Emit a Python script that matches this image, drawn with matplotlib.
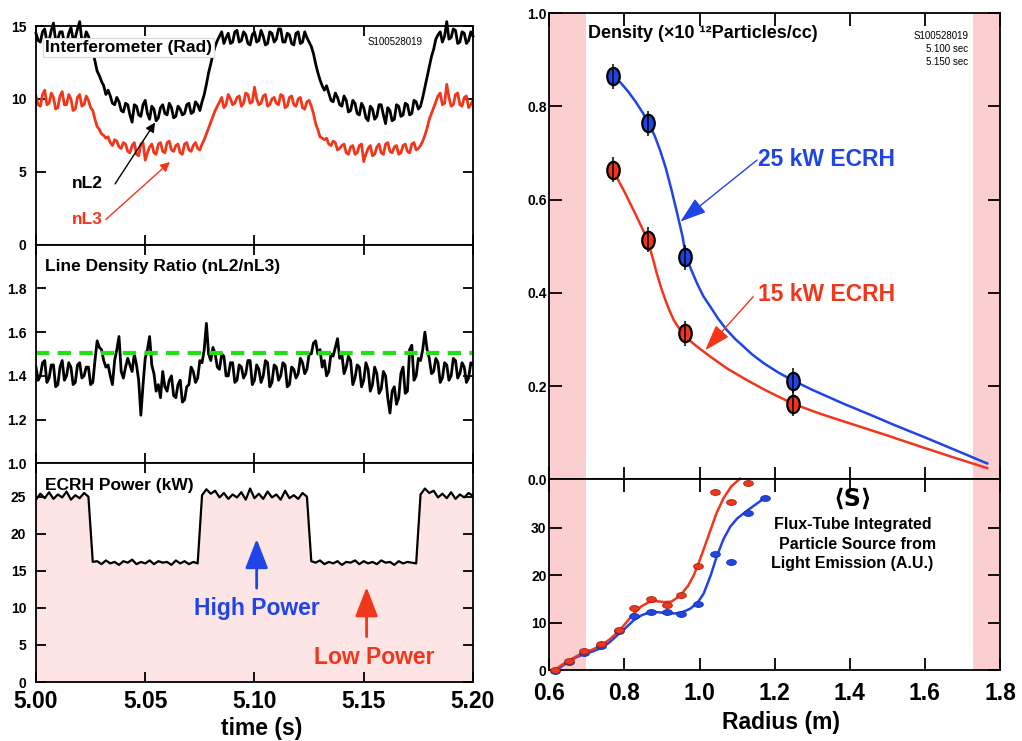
import numpy as np
import matplotlib.pyplot as plt
from matplotlib.path import Path
from matplotlib.transforms import Affine2D

plt.rcParams['font.family'] = ['Liberation Sans', 'DejaVu Sans']
plt.rcParams['font.weight'] = 'bold'
plt.rcParams['axes.labelweight'] = 'bold'

RED = '#f2361b'
BLUE = '#1f45e6'
PINK = '#fbcfcf'
LIGHT_PINK = '#fde5e5'

# ---- interferometer / ratio traces, 1 ms samples from 5.000 s to 5.200 s ----
nL2 = [14.5, 14.0, 13.9, 14.6, 14.8, 13.9, 14.0, 14.7, 15.2, 14.0,
       14.1, 14.6, 14.6, 13.8, 13.8, 14.5, 14.9, 14.1, 14.2, 14.8,
       15.3, 14.0, 13.9, 14.6, 14.3, 13.8, 13.2, 12.6, 11.9, 11.6,
       11.2, 10.9, 10.3, 10.6, 10.2, 9.7, 9.6, 10.1, 9.8, 9.2,
       9.1, 9.7, 9.6, 8.9, 8.4, 9.6, 9.5, 8.9, 8.8, 9.6,
       9.9, 9.0, 8.6, 9.5, 9.3, 8.5, 8.7, 9.4, 9.6, 9.0,
       8.9, 9.7, 9.4, 8.7, 8.8, 9.5, 9.3, 8.9, 9.0, 9.6,
       9.7, 9.0, 9.1, 9.8, 9.6, 9.2, 9.8, 10.3, 11.0, 11.8,
       12.4, 13.1, 13.6, 14.0, 14.3, 14.6, 13.8, 14.2, 14.5, 13.8,
       13.9, 14.6, 14.7, 13.9, 14.0, 14.6, 14.4, 13.8, 13.7, 14.4,
       14.6, 13.9, 14.0, 14.7, 14.3, 13.7, 13.8, 14.6, 14.5, 13.9,
       14.1, 14.8, 14.8, 13.9, 13.9, 14.5, 14.4, 13.8, 13.7, 14.5,
       14.6, 13.8, 13.9, 14.6, 14.2, 13.9, 13.6, 13.1, 12.4, 11.8,
       11.3, 10.9, 10.6, 10.9, 10.4, 9.9, 9.8, 10.4, 10.1, 9.6,
       9.5, 10.2, 9.9, 9.1, 9.2, 9.9, 9.7, 9.0, 8.9, 9.7,
       9.4, 8.7, 8.5, 9.5, 9.3, 8.6, 8.8, 9.6, 9.6, 8.9,
       8.3, 9.4, 9.2, 8.5, 8.6, 9.6, 9.5, 8.8, 8.9, 9.7,
       9.6, 8.9, 9.0, 9.9, 9.8, 9.3, 9.5, 10.1, 10.8, 11.5,
       12.2, 12.9, 13.4, 14.1, 14.4, 14.6, 13.9, 14.3, 15.3, 14.1,
       14.2, 14.8, 14.7, 13.8, 13.9, 14.6, 14.5, 13.8, 14.0, 14.6,
       14.3]

nL3 = [10.2, 9.6, 9.5, 10.3, 10.6, 9.6, 9.7, 10.4, 10.1, 9.3,
       9.4, 10.2, 10.5, 9.6, 9.6, 10.3, 10.0, 9.2, 9.3, 10.1,
       10.3, 9.5, 9.6, 10.2, 9.9, 9.4, 9.2, 8.6, 8.1, 7.9,
       7.6, 7.5, 7.3, 7.4, 7.0, 6.8, 7.2, 7.1, 6.7, 6.6,
       7.0, 6.9, 6.4, 6.3, 6.8, 7.0, 6.2, 6.1, 6.9, 7.0,
       5.8, 6.3, 6.7, 6.9, 6.3, 6.2, 6.9, 7.0, 6.4, 6.3,
       7.0, 7.1, 6.5, 6.4, 6.8, 6.9, 6.3, 6.2, 6.9, 7.0,
       6.5, 6.4, 6.8, 7.0, 6.6, 6.5, 6.9, 7.2, 7.6, 8.0,
       8.4, 8.8, 9.2, 9.5, 9.8, 10.1, 9.4, 9.6, 10.3, 10.0,
       9.6, 9.7, 10.1, 10.2, 9.5, 9.7, 10.4, 10.3, 9.7, 9.8,
       10.8, 10.0, 9.6, 9.7, 10.2, 10.3, 9.5, 9.6, 10.0, 10.1,
       9.7, 9.6, 10.3, 10.2, 9.4, 9.5, 10.1, 10.2, 9.6, 9.5,
       10.0, 10.1, 9.4, 9.3, 9.8, 9.9, 9.5, 9.0, 8.3, 7.9,
       7.4, 7.3, 7.2, 7.3, 6.9, 6.8, 7.1, 7.0, 6.5, 6.6,
       6.8, 6.9, 6.3, 6.2, 6.7, 6.8, 6.2, 6.3, 6.8, 6.9,
       5.7, 6.2, 6.6, 6.8, 6.1, 6.2, 6.7, 6.9, 6.3, 6.2,
       6.9, 7.0, 6.4, 6.3, 6.7, 6.8, 6.2, 6.3, 6.8, 6.9,
       6.4, 6.3, 6.9, 7.0, 6.5, 6.6, 6.8, 7.1, 7.5, 8.0,
       8.6, 9.0, 9.4, 9.8, 10.2, 10.4, 9.6, 9.7, 11.0, 10.1,
       9.5, 9.6, 10.3, 10.4, 9.6, 9.5, 10.1, 10.2, 9.4, 9.6,
       9.9]

ratio = [1.44, 1.38, 1.40, 1.46, 1.47, 1.37, 1.39, 1.45, 1.45, 1.35,
         1.36, 1.44, 1.47, 1.38, 1.40, 1.46, 1.44, 1.36, 1.37, 1.45,
         1.46, 1.39, 1.40, 1.44, 1.44, 1.36, 1.37, 1.47, 1.56, 1.53,
         1.52, 1.47, 1.44, 1.45, 1.40, 1.36, 1.47, 1.52, 1.58, 1.42,
         1.39, 1.44, 1.48, 1.45, 1.42, 1.50, 1.45, 1.38, 1.22, 1.36,
         1.48, 1.52, 1.58, 1.45, 1.41, 1.33, 1.36, 1.30, 1.42, 1.35,
         1.33, 1.38, 1.40, 1.31, 1.30, 1.36, 1.38, 1.28, 1.29, 1.35,
         1.36, 1.44, 1.42, 1.37, 1.39, 1.47, 1.46, 1.52, 1.64, 1.50,
         1.47, 1.53, 1.50, 1.44, 1.43, 1.50, 1.49, 1.40, 1.40, 1.46,
         1.46, 1.37, 1.38, 1.45, 1.44, 1.39, 1.41, 1.47, 1.47, 1.36,
         1.38, 1.45, 1.43, 1.37, 1.40, 1.47, 1.46, 1.35, 1.37, 1.45,
         1.44, 1.38, 1.40, 1.46, 1.45, 1.35, 1.36, 1.44, 1.43, 1.39,
         1.41, 1.48, 1.46, 1.41, 1.43, 1.50, 1.50, 1.55, 1.56, 1.50,
         1.52, 1.44, 1.47, 1.40, 1.42, 1.50, 1.49, 1.53, 1.57, 1.48,
         1.50, 1.41, 1.44, 1.49, 1.47, 1.36, 1.39, 1.45, 1.44, 1.35,
         1.38, 1.46, 1.43, 1.33, 1.36, 1.44, 1.41, 1.32, 1.34, 1.42,
         1.40, 1.30, 1.23, 1.33, 1.35, 1.27, 1.30, 1.41, 1.44, 1.32,
         1.33, 1.52, 1.54, 1.38, 1.40, 1.48, 1.47, 1.52, 1.60, 1.52,
         1.48, 1.41, 1.42, 1.48, 1.46, 1.37, 1.39, 1.46, 1.45, 1.38,
         1.40, 1.48, 1.47, 1.39, 1.41, 1.46, 1.44, 1.37, 1.39, 1.46,
         1.45]
ratio_ref = 1.505

t = np.linspace(5.0, 5.2, len(nL2))

# ECRH power, 2 ms samples
ecrh_kw = [24.6, 25.4, 24.8, 25.6, 24.7, 25.3, 24.9, 25.7, 24.6, 25.2,
           24.8, 25.5, 25.0, 16.2, 16.3, 15.9, 16.4, 16.0, 16.2, 15.8,
           16.3, 16.1, 16.5, 15.9, 16.2, 16.0, 16.4, 15.9, 16.3, 16.1,
           16.2, 15.8, 16.4, 16.0, 16.3, 15.9, 16.2, 16.0, 25.2, 26.0,
           25.4, 25.8, 24.9, 25.5, 24.7, 25.3, 24.9, 25.6, 24.6, 26.1,
           24.8, 25.4, 24.7, 25.7, 24.9, 25.3, 24.6, 25.8, 24.8, 25.2,
           24.7, 25.5, 25.0, 16.3, 16.1, 16.4, 15.9, 16.2, 16.0, 16.3,
           15.8, 16.2, 16.1, 16.4, 15.9, 16.3, 16.0, 16.2, 15.9, 16.4,
           16.1, 16.2, 15.8, 16.3, 16.0, 16.2, 16.1, 16.0, 25.3, 26.1,
           25.5, 25.8, 24.9, 25.4, 24.8, 25.6, 24.7, 25.3, 24.9, 25.5,
           25.1]
t_ecrh = np.linspace(5.0, 5.2, len(ecrh_kw))

# ---- density profiles ----
r_pts = [0.769, 0.864, 0.962, 1.249]
dens_25kw = [0.865, 0.764, 0.476, 0.212]
dens_15kw = [0.664, 0.514, 0.313, 0.162]
dens_err = [0.027, 0.027, 0.027, 0.027]

r_fit25 = [0.769, 0.790, 0.810, 0.830, 0.850, 0.864, 0.880, 0.895, 0.910,
           0.925, 0.940, 0.955, 0.962, 0.975, 0.993, 1.010, 1.029, 1.050,
           1.073, 1.095, 1.117, 1.140, 1.171, 1.210, 1.249, 1.300, 1.384,
           1.450, 1.520, 1.600, 1.680, 1.766]
fit25 = [0.865, 0.851, 0.832, 0.810, 0.785, 0.764, 0.738, 0.706, 0.668,
         0.622, 0.572, 0.520, 0.485, 0.455, 0.421, 0.393, 0.370, 0.344,
         0.320, 0.301, 0.285, 0.268, 0.249, 0.229, 0.212, 0.192, 0.162,
         0.140, 0.116, 0.090, 0.063, 0.034]
r_fit15 = [0.769, 0.800, 0.830, 0.850, 0.862, 0.875, 0.886, 0.898, 0.909,
           0.920, 0.931, 0.944, 0.956, 0.975, 0.993, 1.029, 1.073, 1.117,
           1.171, 1.249, 1.320, 1.400, 1.500, 1.600, 1.680, 1.766]
fit15 = [0.664, 0.617, 0.568, 0.534, 0.512, 0.476, 0.442, 0.410, 0.385,
         0.362, 0.342, 0.326, 0.313, 0.297, 0.285, 0.263, 0.238, 0.217,
         0.193, 0.162, 0.141, 0.120, 0.094, 0.067, 0.046, 0.024]

# ---- flux-tube integrated source ----
r_src = [0.615, 0.653, 0.693, 0.738, 0.785, 0.825, 0.871, 0.913, 0.951,
         0.995, 1.040, 1.085, 1.128, 1.175]
src_15kw = [0.0, 1.9, 3.9, 5.5, 8.4, 13.0, 15.0, 13.6, 15.7, 22.0, 37.4,
            35.4, 39.4, np.nan]
src_25kw = [-0.2, 1.7, 3.6, 5.0, 8.2, 11.4, 12.3, 12.3, 11.7, 14.0, 24.4,
            22.7, 33.0, 36.3]

r_sfit15 = [0.615, 0.630, 0.650, 0.670, 0.690, 0.715, 0.740, 0.760, 0.785,
            0.805, 0.825, 0.845, 0.865, 0.885, 0.905, 0.925, 0.948, 0.970,
            0.985, 0.997, 1.010, 1.028, 1.045, 1.064, 1.085, 1.108]
sfit15 = [0.0, 0.9, 1.9, 2.8, 3.6, 4.3, 5.3, 6.4, 8.2, 10.0, 11.9, 13.4,
          14.3, 14.5, 14.3, 14.4, 15.6, 17.8, 20.0, 22.4, 25.2, 29.2,
          33.0, 36.2, 38.7, 40.3]
r_sfit25 = [0.615, 0.630, 0.650, 0.670, 0.690, 0.715, 0.740, 0.760, 0.785,
            0.805, 0.825, 0.845, 0.865, 0.885, 0.910, 0.935, 0.955, 0.975,
            0.995, 1.011, 1.030, 1.046, 1.064, 1.082, 1.100, 1.126, 1.150,
            1.175]
sfit25 = [-0.3, 0.6, 1.7, 2.6, 3.3, 3.9, 4.7, 5.8, 7.6, 9.0, 10.5, 11.5,
          12.1, 12.2, 12.0, 11.9, 12.2, 12.9, 14.2, 16.1, 20.0, 24.0, 27.6,
          30.2, 31.9, 33.5, 34.9, 36.3]

fig = plt.figure(figsize=(10.22, 7.41), dpi=100)

H = 218.67 / 741
ax1 = fig.add_axes([0.0352, 1 - 244.67 / 741, 0.4276, H])
ax2 = fig.add_axes([0.0352, 1 - 463.33 / 741, 0.4276, H])
ax3 = fig.add_axes([0.0352, 1 - 682.0 / 741, 0.4276, H])
ax4 = fig.add_axes([0.5375, 1 - 479.3 / 741, 0.441, 466.0 / 741])
ax5 = fig.add_axes([0.5375, 1 - 670.0 / 741, 0.441, 190.7 / 741])

for ax in (ax1, ax2, ax3, ax4, ax5):
    for s in ax.spines.values():
        s.set_linewidth(1.3)
    ax.tick_params(direction='in', top=True, right=True, length=7,
                   width=1.3, labelsize=10, pad=5)

for ax in (ax1, ax2, ax3):
    ax.set_xlim(5.0, 5.2)
    ax.set_xticks([5.0, 5.05, 5.1, 5.15, 5.2])
    ax.tick_params(axis='y', pad=7)
for ax in (ax1, ax2):
    ax.tick_params(labelbottom=False)

# interferometer signals
ax1.plot(t, nL2, color='k', lw=2.0, clip_on=False)
ax1.plot(t, nL3, color=RED, lw=2.0)
ax1.set_ylim(0, 15)
ax1.set_yticks([0, 5, 10, 15])
ax1.text(5.0043, 13.55, 'Interferometer (Rad)', fontsize=12.5, va='center',
         bbox=dict(facecolor='white', edgecolor='#d8d8d8', pad=1.5, lw=0.8),
         zorder=5)
ax1.text(5.1643, 13.9, 'S100528019', fontsize=7, fontweight='normal',
         ha='center', va='center')
ax1.text(5.0163, 4.17, 'nL2', fontsize=12.5, va='center')
ax1.text(5.0163, 1.73, 'nL3', fontsize=12.5, va='center', color=RED)
ax1.annotate('', xy=(5.0545, 8.38), xytext=(5.0362, 4.17),
             arrowprops=dict(arrowstyle='-|>', color='k', lw=1,
                             mutation_scale=14, shrinkA=0, shrinkB=0))
ax1.annotate('', xy=(5.0613, 5.67), xytext=(5.032, 1.73),
             arrowprops=dict(arrowstyle='-|>', color=RED, lw=1,
                             mutation_scale=14, shrinkA=0, shrinkB=0))

# line density ratio
ax2.plot(t, ratio, color='k', lw=2.0)
ax2.axhline(ratio_ref, color='#22e014', lw=3, dashes=(3.2, 2.0))
ax2.set_ylim(1.0, 2.0)
ax2.set_yticks([1.0, 1.2, 1.4, 1.6, 1.8])
ax2.set_yticklabels(['1.0', '1.2', '1.4', '1.6', '1.8'])
ax2.text(5.0043, 1.9, 'Line Density Ratio (nL2/nL3)', fontsize=12.5,
         va='center')

# ECRH power
ax3.fill_between(t_ecrh, 0, ecrh_kw, color=LIGHT_PINK, lw=0)
ax3.plot(t_ecrh, ecrh_kw, color='k', lw=1.6)
ax3.set_ylim(0, 29.5)
ax3.set_yticks([0, 5, 10, 15, 20, 25])
ax3.set_xticklabels(['5.00', '5.05', '5.10', '5.15', '5.20'])
ax3.tick_params(axis='x', labelsize=16.5, pad=6)
ax3.set_xlabel('time (s)', fontsize=16.5)
ax3.xaxis.set_label_coords(0.517, -0.16)
ax3.text(5.0043, 26.5, 'ECRH Power (kW)', fontsize=12.5, va='center')
ax3.annotate('', xy=(5.101, 19.3), xytext=(5.101, 12.66),
             arrowprops=dict(arrowstyle='-|>,head_length=0.9,head_width=0.35',
                             color=BLUE, lw=2, mutation_scale=20,
                             shrinkA=0, shrinkB=0))
ax3.annotate('', xy=(5.1513, 12.8), xytext=(5.1513, 6.12),
             arrowprops=dict(arrowstyle='-|>,head_length=0.9,head_width=0.35',
                             color=RED, lw=2, mutation_scale=20,
                             shrinkA=0, shrinkB=0))
ax3.text(5.101, 9.96, 'High Power', fontsize=16.5, color=BLUE,
         ha='center', va='center')
ax3.text(5.1547, 3.34, 'Low Power', fontsize=16.5, color=RED,
         ha='center', va='center')

# density profiles
tall = Path.unit_circle().transformed(Affine2D().scale(0.72, 1.0))
wide = Path.unit_circle().transformed(Affine2D().scale(1.0, 0.6))

for ax in (ax4, ax5):
    ax.set_xlim(0.6, 1.8)
    ax.set_xticks([0.6, 0.8, 1.0, 1.2, 1.4, 1.6, 1.8])
    ax.axvspan(0.6, 0.698, color=PINK, lw=0, zorder=0)
    ax.axvspan(1.728, 1.8, color=PINK, lw=0, zorder=0)
    ax.tick_params(length=9, pad=3)

ax4.plot(r_fit25, fit25, color=BLUE, lw=1.8)
ax4.plot(r_fit15, fit15, color=RED, lw=1.8)
ax4.plot(r_pts, dens_25kw, ls='none', marker=tall, ms=12.5, mfc=BLUE,
         mec='k', mew=1.6, zorder=4)
ax4.plot(r_pts, dens_15kw, ls='none', marker=tall, ms=12.5, mfc=RED,
         mec='k', mew=1.6, zorder=4)
ax4.errorbar(r_pts, dens_25kw, yerr=dens_err, fmt='none', ecolor='k',
             elinewidth=1.1, zorder=5)
ax4.errorbar(r_pts, dens_15kw, yerr=dens_err, fmt='none', ecolor='k',
             elinewidth=1.1, zorder=5)
ax4.set_ylim(0, 1.0)
ax4.set_yticks([0.0, 0.2, 0.4, 0.6, 0.8, 1.0])
ax4.set_yticklabels(['0.0', '0.2', '0.4', '0.6', '0.8', '1.0'])
ax4.tick_params(labelbottom=False)
ax4.tick_params(axis='y', pad=2)
ax4.text(0.702, 0.957, 'Density (\u00d710 \u00b9\u00b2Particles/cc)',
         fontsize=13, va='center')
ax4.text(1.715, 0.962, 'S100528019\n5.100 sec\n5.150 sec', fontsize=7,
         fontweight='normal', ha='right', va='top', linespacing=1.35)
ax4.text(1.155, 0.687, '25 kW ECRH', fontsize=16.5, color=BLUE,
         va='center')
ax4.text(1.155, 0.397, '15 kW ECRH', fontsize=16.5, color=RED,
         va='center')
ax4.annotate('', xy=(0.949, 0.553), xytext=(1.153, 0.685),
             arrowprops=dict(arrowstyle='-|>,head_length=0.9,head_width=0.3',
                             color=BLUE, lw=1, mutation_scale=18,
                             shrinkA=0, shrinkB=0))
ax4.annotate('', xy=(1.015, 0.277), xytext=(1.143, 0.392),
             arrowprops=dict(arrowstyle='-|>,head_length=0.9,head_width=0.3',
                             color=RED, lw=1, mutation_scale=18,
                             shrinkA=0, shrinkB=0))

# flux-tube integrated source
ax5.plot(r_sfit25, sfit25, color=BLUE, lw=1.8, clip_on=False)
ax5.plot(r_sfit15, sfit15, color=RED, lw=1.8, clip_on=False)
ax5.plot(r_src, src_25kw, ls='none', marker=wide, ms=7, mfc=BLUE,
         mec='#1030a0', mew=0.6, zorder=4, clip_on=False)
ax5.plot(r_src, src_15kw, ls='none', marker=wide, ms=7, mfc=RED,
         mec='#a02010', mew=0.6, zorder=4, clip_on=False)
ax5.set_ylim(0, 40.15)
ax5.set_yticks([0, 10, 20, 30])
ax5.tick_params(axis='y', pad=2)
ax5.tick_params(axis='x', labelsize=16.5, pad=9)
ax5.set_xlabel('Radius (m)', fontsize=16.5)
ax5.xaxis.set_label_coords(0.513, -0.215)
ax5.text(1.407, 36.1, '\u27e8S\u27e9', fontsize=17, ha='center',
         va='center', family=['DejaVu Sans'])
ax5.text(1.407, 30.7, 'Flux-Tube Integrated', fontsize=11.5,
         ha='center', va='center')
ax5.text(1.421, 26.5, 'Particle Source from', fontsize=11.5,
         ha='center', va='center')
ax5.text(1.407, 22.5, 'Light Emission (A.U.)', fontsize=11.5,
         ha='center', va='center')

fig.savefig('out.png', dpi=100)
